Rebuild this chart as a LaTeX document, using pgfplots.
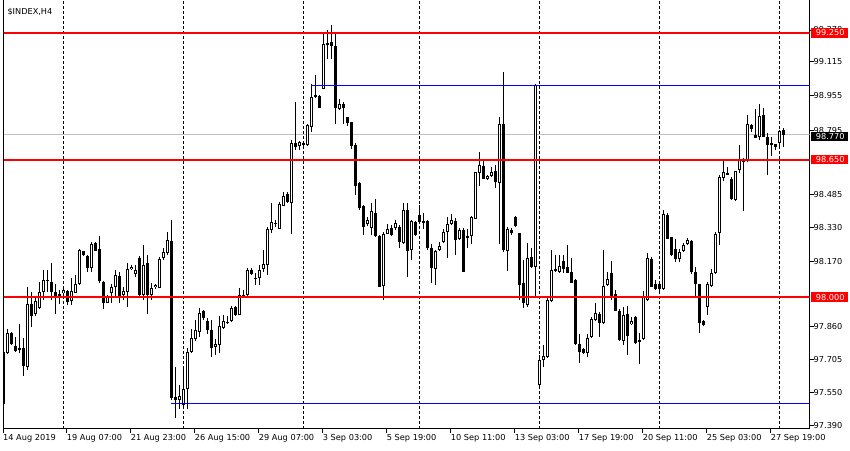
\documentclass[border=0pt]{standalone}
\usepackage{pgfplots}
\pgfplotsset{compat=1.18}
\usepackage{pgfplotstable}
\usepackage{fontspec}
\setmainfont{DejaVu Sans}
\newcommand{\fs}{\fontsize{8.2}{9}\selectfont}
\pgfplotstableread{
i o h l c
0 97.497 97.789 97.453 97.741
1 97.737 97.852 97.731 97.833
2 97.829 97.836 97.773 97.781
3 97.768 97.812 97.741 97.746
4 97.758 97.871 97.735 97.753
5 97.758 97.805 97.628 97.674
6 97.670 98.046 97.655 97.967
7 97.971 98.023 97.857 97.912
8 97.920 98.005 97.910 97.981
9 97.950 98.073 97.944 98.023
10 98.027 98.128 97.986 98.081
11 98.084 98.128 98.024 98.078
12 98.073 98.160 97.986 98.025
13 98.024 98.065 97.923 98.006
14 98.015 98.033 97.967 98.005
15 98.018 98.042 97.996 98.033
16 98.029 98.033 97.962 97.978
17 97.983 98.089 97.962 98.029
18 98.021 98.104 98.018 98.062
19 98.062 98.228 98.057 98.223
20 98.217 98.219 98.194 98.198
21 98.196 98.199 98.120 98.141
22 98.141 98.259 98.120 98.254
23 98.259 98.262 98.218 98.219
24 98.228 98.289 98.068 98.078
25 98.071 98.076 97.945 97.971
26 97.973 98.010 97.971 97.999
27 98.018 98.062 97.973 98.049
28 98.049 98.131 97.999 98.108
29 98.103 98.120 97.971 98.005
30 98.011 98.049 97.986 98.029
31 98.024 98.163 97.954 98.131
32 98.131 98.152 98.128 98.144
33 98.109 98.152 98.096 98.131
34 98.185 98.194 98.000 98.010
35 98.013 98.246 97.986 98.155
36 98.160 98.199 97.923 98.010
37 98.010 98.068 97.986 98.042
38 98.046 98.063 98.038 98.057
39 98.046 98.191 98.043 98.180
40 98.184 98.231 98.175 98.212
41 98.207 98.309 98.199 98.270
42 98.265 98.365 97.513 97.521
43 97.528 97.670 97.426 97.513
44 97.516 97.584 97.470 97.533
45 97.489 97.663 97.474 97.565
46 97.565 97.762 97.470 97.741
47 97.741 97.852 97.734 97.805
48 97.802 97.891 97.792 97.844
49 97.836 97.952 97.812 97.928
50 97.934 97.939 97.891 97.902
51 97.887 97.902 97.824 97.844
52 97.844 97.891 97.718 97.760
53 97.765 97.802 97.726 97.781
54 97.776 97.912 97.734 97.862
55 97.855 97.915 97.849 97.887
56 97.879 97.912 97.871 97.883
57 97.887 97.959 97.882 97.947
58 97.953 97.958 97.910 97.915
59 97.918 98.044 97.915 98.013
60 98.005 98.033 98.000 98.012
61 98.010 98.136 98.005 98.128
62 98.131 98.139 98.104 98.109
63 98.092 98.113 98.057 98.086
64 98.092 98.152 98.060 98.127
65 98.131 98.223 98.120 98.155
66 98.152 98.333 98.104 98.322
67 98.317 98.444 98.302 98.354
68 98.349 98.365 98.333 98.354
69 98.325 98.451 98.322 98.440
70 98.434 98.499 98.431 98.480
71 98.488 98.499 98.445 98.448
72 98.447 98.743 98.297 98.728
73 98.733 98.925 98.696 98.712
74 98.716 98.740 98.696 98.735
75 98.720 98.734 98.715 98.728
76 98.720 98.822 98.715 98.814
77 98.806 99.008 98.783 98.946
78 98.956 99.051 98.945 98.946
79 98.955 98.956 98.895 98.896
80 98.988 99.256 98.985 99.198
81 99.198 99.264 99.130 99.204
82 99.206 99.288 99.130 99.188
83 99.188 99.248 98.819 98.896
84 98.893 98.936 98.885 98.917
85 98.914 98.925 98.822 98.896
86 98.851 98.854 98.810 98.822
87 98.829 98.830 98.704 98.715
88 98.723 98.728 98.483 98.527
89 98.538 98.546 98.412 98.420
90 98.431 98.436 98.294 98.333
91 98.346 98.380 98.336 98.365
92 98.325 98.444 98.294 98.407
93 98.401 98.467 98.287 98.289
94 98.289 98.294 98.048 98.049
95 98.054 98.307 97.986 98.297
96 98.302 98.349 98.299 98.325
97 98.330 98.341 98.289 98.297
98 98.325 98.365 98.317 98.349
99 98.330 98.341 98.231 98.262
100 98.257 98.444 98.251 98.415
101 98.412 98.444 98.096 98.219
102 98.223 98.365 98.175 98.360
103 98.355 98.360 98.289 98.295
104 98.388 98.436 98.351 98.355
105 98.352 98.399 98.325 98.359
106 98.359 98.365 98.223 98.234
107 98.234 98.254 98.068 98.139
108 98.133 98.223 98.057 98.219
109 98.223 98.262 98.218 98.245
110 98.261 98.325 98.256 98.307
111 98.309 98.380 98.184 98.344
112 98.346 98.396 98.341 98.363
113 98.360 98.373 98.199 98.270
114 98.276 98.330 98.270 98.321
115 98.317 98.327 98.119 98.120
116 98.284 98.325 98.231 98.289
117 98.291 98.384 98.254 98.378
118 98.371 98.592 98.369 98.591
119 98.586 98.687 98.526 98.624
120 98.620 98.649 98.559 98.562
121 98.562 98.578 98.554 98.572
122 98.574 98.617 98.571 98.591
123 98.597 98.625 98.515 98.546
124 98.541 98.854 98.254 98.818
125 98.822 99.067 98.213 98.223
126 98.219 98.333 98.125 98.321
127 98.317 98.325 98.294 98.302
128 98.378 98.384 98.333 98.338
129 98.302 98.303 97.986 98.060
130 98.065 98.175 97.950 97.971
131 97.962 98.257 97.954 98.184
132 98.188 98.231 98.138 98.144
133 98.144 99.008 98.002 99.004
134 97.584 97.726 97.576 97.705
135 97.702 97.773 97.670 97.721
136 97.715 97.999 97.712 97.986
137 97.981 98.226 97.977 98.128
138 98.125 98.199 98.121 98.133
139 98.120 98.199 98.116 98.147
140 98.171 98.199 98.113 98.136
141 98.141 98.246 98.114 98.115
142 98.120 98.184 98.067 98.068
143 98.081 98.085 97.773 97.778
144 97.778 97.825 97.689 97.741
145 97.753 97.759 97.731 97.734
146 97.734 97.825 97.718 97.805
147 97.810 97.907 97.806 97.895
148 97.891 97.973 97.887 97.928
149 97.923 97.931 97.812 97.879
150 97.876 98.223 97.873 98.052
151 98.056 98.120 98.052 98.084
152 98.113 98.172 97.986 98.005
153 98.013 98.037 97.934 97.935
154 97.935 97.947 97.792 97.797
155 97.794 97.952 97.773 97.918
156 97.923 97.958 97.729 97.816
157 97.873 97.907 97.868 97.887
158 97.904 97.910 97.780 97.784
159 97.797 97.829 97.683 97.787
160 97.800 98.030 97.797 97.999
161 97.986 98.210 97.981 98.184
162 98.180 98.191 98.048 98.049
163 98.060 98.081 98.033 98.037
164 98.060 98.067 98.024 98.037
165 98.037 98.412 98.033 98.396
166 98.388 98.399 98.275 98.278
167 98.283 98.286 98.194 98.199
168 98.226 98.275 98.166 98.179
169 98.180 98.228 98.166 98.215
170 98.219 98.256 98.213 98.246
171 98.251 98.280 98.246 98.270
172 98.265 98.270 98.113 98.120
173 98.120 98.144 98.002 98.062
174 98.062 98.065 97.833 97.879
175 97.887 97.891 97.863 97.868
176 97.954 98.073 97.915 98.062
177 98.054 98.136 98.049 98.113
178 98.115 98.309 98.111 98.299
179 98.302 98.578 98.246 98.570
180 98.562 98.649 98.549 98.591
181 98.583 98.617 98.578 98.586
182 98.562 98.570 98.459 98.464
183 98.459 98.597 98.455 98.597
184 98.601 98.720 98.591 98.649
185 98.649 98.658 98.407 98.641
186 98.649 98.862 98.641 98.818
187 98.814 98.822 98.780 98.795
188 98.770 98.890 98.753 98.754
189 98.759 98.912 98.743 98.857
190 98.862 98.893 98.758 98.759
191 98.759 98.775 98.578 98.720
192 98.728 98.759 98.669 98.720
193 98.723 98.728 98.699 98.712
194 98.731 98.791 98.707 98.786
195 98.794 98.802 98.712 98.770
}\data
\begin{document}
\begin{tikzpicture}
\useasboundingbox (0,0) rectangle (850pt,450pt);
\fill[white] (0,0) rectangle (850pt,450pt);
\begin{axis}[
  at={(3pt,21.2pt)}, anchor=south west, scale only axis,
  width=806.5pt, height=428.8pt,
  xmin=-0.125, xmax=201.5, ymin=97.3765, ymax=99.406,
  axis x line*=bottom, axis y line*=right,
  axis line style={black, line width=1pt, -},
  tick align=outside, major tick length=4pt,
  tick style={black, line width=1pt},
  xtick={-0.12,15.8,31.8,47.8,63.8,79.8,95.8,111.8,127.8,143.8,159.8,175.8,191.8},
  xticklabels={14 Aug 2019,19 Aug 07:00,21 Aug 23:00,26 Aug 15:00,29 Aug 07:00,3 Sep 03:00,5 Sep 19:00,10 Sep 11:00,13 Sep 03:00,17 Sep 19:00,20 Sep 11:00,25 Sep 03:00,27 Sep 19:00},
  xticklabel style={anchor=north west, inner sep=0pt, yshift=-1.5pt, font=\fs},
  ytick={99.264,99.115,98.955,98.787,98.485,98.330,98.170,97.860,97.705,97.550,97.390},
  yticklabels={99.270,99.115,98.955,98.795,98.485,98.330,98.170,97.860,97.705,97.550,97.390},
  yticklabel style={anchor=west, inner sep=0pt, font=\fs},
  extra x ticks={15,45,75,104,134,164,194},
  extra x tick labels={},
  extra x tick style={grid=major, major tick length=0pt,
    major grid style={black, line width=1pt, dash pattern=on 3pt off 2pt}},
]
% bid line
\addplot[forget plot, color={rgb,255:red,192;green,192;blue,192}, line width=1pt] coordinates {(-1,98.770) (202,98.770)};
% wicks
\addplot[forget plot, draw=none, mark=none,
  error bars/.cd, y dir=both, y explicit, error mark=none,
  error bar style={draw=black, line width=1pt}]
  table[x=i, y expr={(\thisrow{h}+\thisrow{l})/2}, y error expr={(\thisrow{h}-\thisrow{l})/2}] {\data};
% bodies
\addplot[forget plot, draw=none, mark=none,
  error bars/.cd, y dir=both, y explicit, error mark=none,
  error bar style={draw=black, line width=3pt}]
  table[x=i, y expr={(\thisrow{o}+\thisrow{c})/2}, y error expr={max(abs(\thisrow{o}-\thisrow{c})/2,0.0025)}] {\data};
% hollow interior of rising candles
\addplot[forget plot, draw=none, mark=none,
  error bars/.cd, y dir=both, y explicit, error mark=none,
  error bar style={draw=white, line width=1pt}]
  table[x=i, y expr={(\thisrow{o}+\thisrow{c})/2}, y error expr={\thisrow{c}>\thisrow{o} ? max((\thisrow{c}-\thisrow{o})/2-0.00473,0) : 0}] {\data};
% levels
\addplot[forget plot, red, line width=2pt] coordinates {(-1,99.25) (202,99.25)};
\addplot[forget plot, red, line width=2pt] coordinates {(-1,98.65) (202,98.65)};
\addplot[forget plot, red, line width=2pt] coordinates {(-1,98.00) (202,98.00)};
\addplot[forget plot, blue, line width=1pt] coordinates {(76.9,99.000) (202,99.000)};
\addplot[forget plot, blue, line width=1pt] coordinates {(41.9,97.497) (202,97.497)};
\coordinate (BL) at (rel axis cs:0,0);
\coordinate (TL) at (rel axis cs:0,1);
\coordinate (R1) at (axis cs:201.5,99.25);
\coordinate (R2) at (axis cs:201.5,98.65);
\coordinate (R3) at (axis cs:201.5,98.00);
\coordinate (R4) at (axis cs:201.5,98.76);
\end{axis}
\draw[black, line width=1pt] (BL) -- (TL);
\foreach \p/\t/\col in {R1/99.250/red, R2/98.650/red, R3/98.000/red, R4/98.770/black}{
  \node[fill=\col, inner sep=0pt, minimum width=36.6pt, minimum height=9.5pt, anchor=west] at ([xshift=1.2pt]\p) {};
  \node[text=white, anchor=west, inner sep=0pt, font=\fs] at ([xshift=6.2pt]\p) {\t};
}
\node[anchor=west, inner sep=0pt, font=\fs] at (7.3pt,438.3pt) {\$INDEX,H4};
\end{tikzpicture}
\end{document}
